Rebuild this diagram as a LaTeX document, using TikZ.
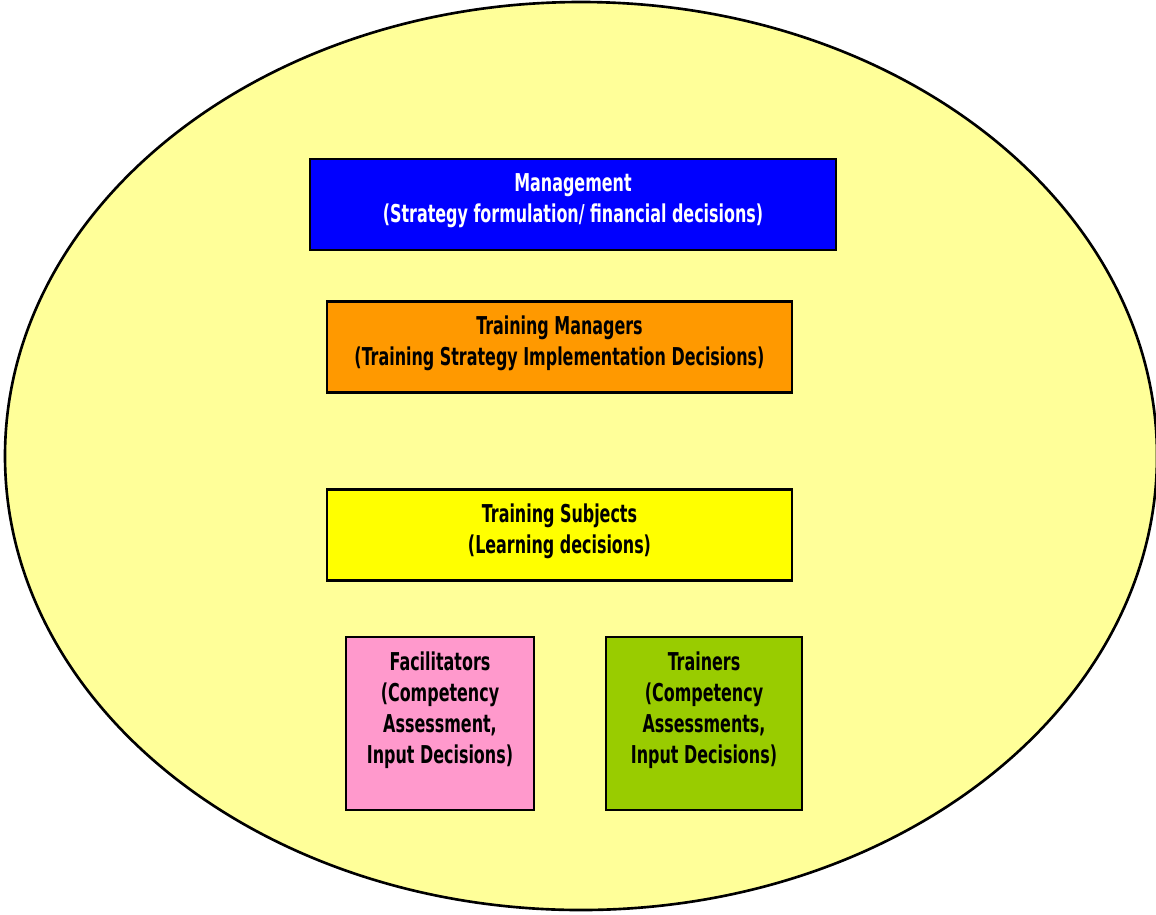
\documentclass[tikz,border=0pt]{standalone}
\usepackage{fontspec}
\newfontfamily\boxfont[FakeStretch=0.72]{DejaVu Sans Condensed}
\definecolor{paleyellow}{HTML}{FFFF99}
\definecolor{mgmtblue}{HTML}{0000FF}
\definecolor{mgrorange}{HTML}{FF9900}
\definecolor{subjyellow}{HTML}{FFFF00}
\definecolor{facpink}{HTML}{FF99CC}
\definecolor{trngreen}{HTML}{99CC00}

\begin{document}
\begin{tikzpicture}[x=0.02cm,y=-0.02cm]
				\tikzstyle{box}=[draw=black,line width=1.3pt,align=center,
				font=\boxfont\bfseries\fontsize{14}{17.6}\selectfont,inner sep=0pt]
				\tikzstyle{widebox}=[box,minimum height=1.82cm,text depth=0.26cm]
				\tikzstyle{smallbox}=[box,minimum height=3.46cm,text depth=0.64cm]
				\useasboundingbox (0,0) rectangle (1156,914);
				% background oval
				\draw[fill=paleyellow,line width=1.5pt] (581,456) ellipse [x radius=576,y radius=454];
				\node[widebox,fill=mgmtblue,text=white,minimum width=10.52cm] (mgmt) at (573,204.5)
				{Management\\(Strategy formulation/ financial decisions)};
				\node[widebox,fill=mgrorange,minimum width=9.3cm] (trmgr) at (559.5,347)
				{Training Managers\\(Training Strategy Implementation Decisions)};
				\node[widebox,fill=subjyellow,minimum width=9.3cm] (subj) at (559.5,535)
				{Training Subjects\\(Learning decisions)};
				\node[smallbox,fill=facpink,minimum width=3.76cm] (facil) at (440,723.5)
				{Facilitators\\(Competency\\Assessment,\\Input Decisions)};
				\node[smallbox,fill=trngreen,minimum width=3.92cm] (trainer) at (704,723.5)
				{Trainers\\(Competency\\Assessments,\\Input Decisions)};
				\end{tikzpicture}
\end{document}
